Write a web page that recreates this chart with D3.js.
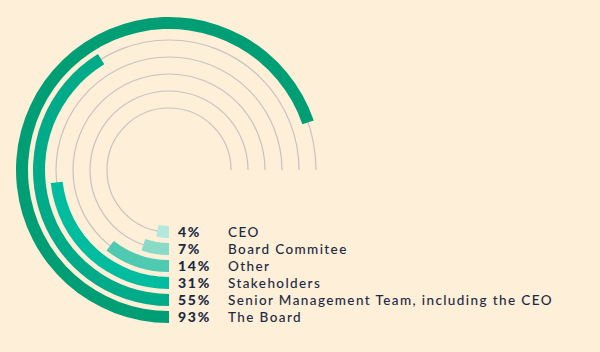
<!DOCTYPE html>
<html>
<head>
<meta charset="utf-8">
<script src="https://cdn.jsdelivr.net/npm/d3@7"></script>
<style>
  body { margin: 0; background: #feefd8; }
  svg { display: block; }
</style>
</head>
<body>
<svg id="chart"></svg>
<script>
// values, outermost ring first
var categories = ["The Board", "Senior Management Team, including the CEO", "Stakeholders", "Other", "Board Commitee", "CEO"]
var values = [93, 55, 31, 14, 7, 4]
var colors = ["#009e74", "#00ab8a", "#00bd9f", "#4ecab0", "#88dbc7", "#b4e8dc"]

var dimensions = {
    width: 600,
    height: 352,
    cx: 169,
    cy: 170
}

var svg = d3.select("#chart")
            .attr("width", dimensions.width)
            .attr("height", dimensions.height)

svg.append("rect")
   .attr("width", dimensions.width)
   .attr("height", dimensions.height)
   .attr("fill", "#feefd8")

// 100% = three quarters of a turn, starting at 6 o'clock going clockwise
var angleScale = d3.scaleLinear()
                   .domain([0, 100])
                   .range([Math.PI, Math.PI * 2.5])

var radiusScale = d3.scaleLinear()
                    .domain([0, categories.length - 1])
                    .range([147, 62])

var g = svg.append("g")
           .attr("transform", `translate(${dimensions.cx},${dimensions.cy})`)

var barWidth = 12

// thin grey tracks
g.selectAll(".track")
 .data(categories)
 .enter()
 .append("path")
 .attr("class", "track")
 .attr("fill", "none")
 .attr("stroke", "#c6c3c0")
 .attr("stroke-width", 1.2)
 .attr("d", (d, i) => d3.arc()({
     innerRadius: radiusScale(i),
     outerRadius: radiusScale(i),
     startAngle: angleScale(0),
     endAngle: angleScale(100)
 }))

var arcGen = d3.arc()
               .innerRadius((d, i) => radiusScale(i) - barWidth / 2)
               .outerRadius((d, i) => radiusScale(i) + barWidth / 2)
               .startAngle(angleScale(0))
               .endAngle(d => angleScale(d))

g.selectAll(".bar")
 .data(values)
 .enter()
 .append("path")
 .attr("class", "bar")
 .attr("fill", (d, i) => colors[i])
 .attr("d", (d, i) => arcGen(d, i))

// labels next to the start of each ring
var labels = svg.selectAll(".label")
                .data(categories)
                .enter()
                .append("g")
                .attr("class", "label")
                .attr("transform", (d, i) => `translate(${dimensions.cx + 9},${dimensions.cy + radiusScale(i)})`)

labels.append("text")
      .text((d, i) => values[i] + "%")
      .attr("dy", "0.36em")
      .attr("font-family", "Lato, sans-serif")
      .attr("font-weight", 900)
      .attr("font-size", 14)
      .attr("letter-spacing", 1.7)
      .attr("fill", "#1a2a44")

labels.append("text")
      .text(d => d)
      .attr("x", 50)
      .attr("dy", "0.36em")
      .attr("font-family", "Lato, sans-serif")
      .attr("font-weight", 500)
      .attr("font-size", 13.5)
      .attr("letter-spacing", 1.4)
      .attr("fill", "#1a2a44")
</script>
</body>
</html>
